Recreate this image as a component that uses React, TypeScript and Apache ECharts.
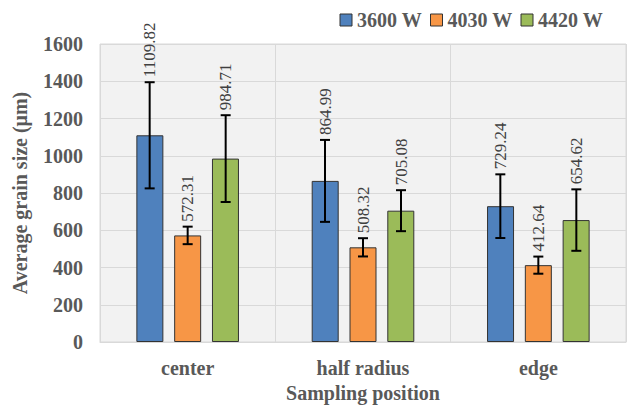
import React, { useEffect, useRef } from "react";
import * as echarts from "echarts";

const categories = ["center", "half radius", "edge"];
const seriesNames = ["3600 W", "4030 W", "4420 W"];
const means3600 = [1109.82, 864.99, 729.24];
const means4030 = [572.31, 508.32, 412.64];
const means4420 = [984.71, 705.08, 654.62];
const err3600 = [285, 220, 171];
const err4030 = [47, 49, 46];
const err4420 = [233, 110, 165];
const yTicks = [0, 200, 400, 600, 800, 1000, 1200, 1400, 1600];

const colors = ["#4f81bd", "#f79646", "#9bbb59"];
const serif = "Liberation Serif";

export default function App() {
  const ref = useRef<HTMLDivElement>(null);
  useEffect(() => {
    if (!ref.current) return;
    const chart = echarts.init(ref.current, null, { renderer: "svg" });
    const means = [means3600, means4030, means4420];
    const errs = [err3600, err4030, err4420];
    const barWidth = 27;
    const barGapPx = 11;

    const barSeries = seriesNames.map((name, i) => ({
      name,
      type: "bar",
      data: means[i],
      barWidth,
      barGap: "40%",
      itemStyle: { color: colors[i], borderColor: "#333333", borderWidth: 1 },
    }));

    const errSeries = seriesNames.map((name, i) => ({
      name,
      type: "custom",
      z: 5,
      data: categories.map((_, k) => [k, means[i][k] - errs[i][k], means[i][k] + errs[i][k], means[i][k]]),
      encode: { x: 0, y: [1, 2] },
      renderItem: (params: any, api: any) => {
        const k = api.value(0);
        const lo = api.coord([k, api.value(1)]);
        const hi = api.coord([k, api.value(2)]);
        const off = (i - 1) * (barWidth + barGapPx);
        const cx = lo[0] + off;
        const cap = 5;
        const ls = { stroke: "#000000", lineWidth: 2 };
        return {
          type: "group",
          children: [
            { type: "line", shape: { x1: cx, y1: lo[1], x2: cx, y2: hi[1] }, style: ls },
            { type: "line", shape: { x1: cx - cap, y1: lo[1], x2: cx + cap, y2: lo[1] }, style: ls },
            { type: "line", shape: { x1: cx - cap, y1: hi[1], x2: cx + cap, y2: hi[1] }, style: ls },
            {
              type: "text",
              x: cx,
              y: hi[1] - 5,
              rotation: Math.PI / 2,
              style: {
                text: api.value(3).toFixed(2),
                font: "17px Liberation Serif",
                fontFamily: serif,
                fontSize: 17,
                fill: "#404040",
                align: "left",
                verticalAlign: "middle",
              },
            },
          ],
        };
      },
    }));

    chart.setOption({
      animation: false,
      backgroundColor: "#ffffff",
      textStyle: { fontFamily: serif },
      legend: {
        data: seriesNames,
        top: 5,
        right: 20,
        itemWidth: 12,
        itemHeight: 12,
        itemGap: 8,
        icon: "rect",
        textStyle: { fontFamily: serif, fontWeight: "bold", fontSize: 20, color: "#595959" },
        itemStyle: { borderColor: "#333333", borderWidth: 1 },
      },
      grid: {
        left: 100,
        right: 2,
        top: 44,
        bottom: 64,
        outerBoundsMode: "none",
        containLabel: false,
        show: true,
        backgroundColor: "#f2f2f2",
        borderColor: "#d9d9d9",
        borderWidth: 1,
      },
      xAxis: {
        type: "category",
        data: categories,
        name: "Sampling position",
        nameLocation: "middle",
        nameGap: 40,
        nameTextStyle: { fontFamily: serif, fontWeight: "bold", fontSize: 20, color: "#595959" },
        axisLine: { show: true, lineStyle: { color: "#d9d9d9" } },
        axisTick: { show: false },
        axisLabel: { fontFamily: serif, fontWeight: "bold", fontSize: 20, color: "#595959", margin: 16 },
        splitLine: { show: true, lineStyle: { color: "#d9d9d9" } },
      },
      yAxis: {
        type: "value",
        min: yTicks[0],
        max: yTicks[yTicks.length - 1],
        interval: 200,
        name: "Average grain size (μm)",
        nameLocation: "middle",
        nameGap: 70,
        nameTextStyle: { fontFamily: serif, fontWeight: "bold", fontSize: 20, color: "#595959" },
        axisLine: { show: false },
        axisTick: { show: false },
        axisLabel: {
          fontFamily: serif,
          fontWeight: "bold",
          fontSize: 20,
          color: "#595959",
          margin: 17,
          formatter: (v: number) => String(v),
        },
        splitLine: { show: true, lineStyle: { color: "#d9d9d9" } },
      },
      series: [...barSeries, ...errSeries],
    });
    return () => chart.dispose();
  }, []);
  return <div ref={ref} style={{ position: "fixed", left: 0, top: 0, width: 628, height: 406 }} />;
}
